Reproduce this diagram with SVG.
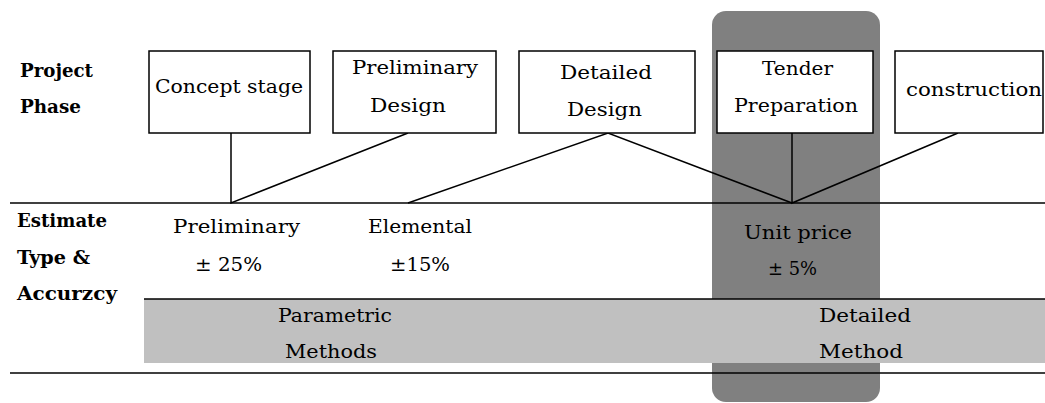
<svg xmlns="http://www.w3.org/2000/svg" width="1045" height="403" viewBox="0 0 1045 403">
<style>
.box{fill:#fff;stroke:#000;stroke-width:1.5}
.t{font-family:"DejaVu Serif","Liberation Serif",serif;font-size:19px;fill:#000}
.b{font-family:"DejaVu Serif","Liberation Serif",serif;font-size:18px;font-weight:bold;fill:#000}
.ln{stroke:#000;stroke-width:1.5;fill:none}
</style>
<rect width="1045" height="403" fill="#fff"/>
<g id="highlight">
<rect x="712" y="11" width="168" height="391" rx="14" fill="#808080"/>
</g>
<g id="band">
<rect x="144" y="299" width="901" height="64" fill="#c0c0c0"/>
<line class="ln" x1="144" y1="299" x2="1045" y2="299"/>
</g>
<g id="rules">
<line class="ln" x1="10" y1="203" x2="1045" y2="203"/>
<line class="ln" x1="10" y1="373" x2="1045" y2="373"/>
</g>
<g id="connectors">
<polyline class="ln" points="231,133 231,203 408,133"/>
<polyline class="ln" points="408,203 608,133 792,203"/>
<polyline class="ln" points="792,133 792,203 958,133"/>
</g>
<g id="row-labels">
<text class="b" x="20" y="77" textLength="73" lengthAdjust="spacingAndGlyphs">Project</text>
<text class="b" x="20" y="113" textLength="61" lengthAdjust="spacingAndGlyphs">Phase</text>
<text class="b" x="17" y="227" textLength="90" lengthAdjust="spacingAndGlyphs">Estimate</text>
<text class="b" x="17" y="264" textLength="73" lengthAdjust="spacingAndGlyphs">Type &amp;</text>
<text class="b" x="17" y="300" textLength="100" lengthAdjust="spacingAndGlyphs">Accurzcy</text>
</g>
<g id="concept">
<rect class="box" x="149" y="51" width="161" height="82"/>
<text class="t" x="155" y="93" textLength="148" lengthAdjust="spacingAndGlyphs">Concept stage</text>
</g>
<g id="preliminary-design">
<rect class="box" x="333" y="51" width="163" height="82"/>
<text class="t" x="352" y="74" textLength="126" lengthAdjust="spacingAndGlyphs">Preliminary</text>
<text class="t" x="370" y="112" textLength="76" lengthAdjust="spacingAndGlyphs">Design</text>
</g>
<g id="detailed-design">
<rect class="box" x="519" y="51" width="176" height="82"/>
<text class="t" x="560" y="79" textLength="92" lengthAdjust="spacingAndGlyphs">Detailed</text>
<text class="t" x="567" y="116" textLength="75" lengthAdjust="spacingAndGlyphs">Design</text>
</g>
<g id="tender">
<rect class="box" x="717" y="51" width="156" height="82"/>
<text class="t" x="762" y="75" textLength="71" lengthAdjust="spacingAndGlyphs">Tender</text>
<text class="t" x="734" y="112" textLength="124" lengthAdjust="spacingAndGlyphs">Preparation</text>
</g>
<g id="construction">
<rect class="box" x="895" y="51" width="148" height="82"/>
<text class="t" x="906" y="96" textLength="136" lengthAdjust="spacingAndGlyphs">construction</text>
</g>
<g id="est-preliminary">
<text class="t" x="173" y="233" textLength="127" lengthAdjust="spacingAndGlyphs">Preliminary</text>
<text class="t" x="195" y="271" textLength="67" lengthAdjust="spacingAndGlyphs">± 25%</text>
</g>
<g id="est-elemental">
<text class="t" x="368" y="233" textLength="104" lengthAdjust="spacingAndGlyphs">Elemental</text>
<text class="t" x="390" y="271" textLength="60" lengthAdjust="spacingAndGlyphs">±15%</text>
</g>
<g id="est-unit">
<text class="t" x="744" y="239" textLength="108" lengthAdjust="spacingAndGlyphs">Unit price</text>
<text class="t" x="768" y="275" textLength="49" lengthAdjust="spacingAndGlyphs">± 5%</text>
</g>
<g id="parametric">
<text class="t" x="278" y="322" textLength="114" lengthAdjust="spacingAndGlyphs">Parametric</text>
<text class="t" x="285" y="358" textLength="92" lengthAdjust="spacingAndGlyphs">Methods</text>
</g>
<g id="detailed-method">
<text class="t" x="819" y="322" textLength="92" lengthAdjust="spacingAndGlyphs">Detailed</text>
<text class="t" x="819" y="358" textLength="84" lengthAdjust="spacingAndGlyphs">Method</text>
</g>
</svg>
